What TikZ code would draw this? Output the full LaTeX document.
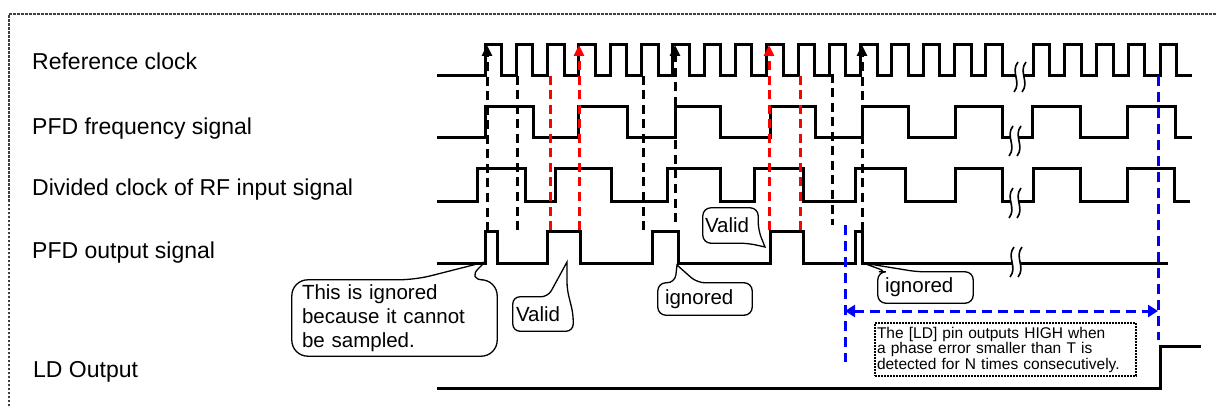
\documentclass[tikz,border=0pt]{standalone}
\usepackage{fontspec}
\setmainfont{Liberation Sans}
\usetikzlibrary{arrows.meta}

\tikzset{
  wave/.style={line width=3pt, line join=miter},
  guide/.style={line width=3pt, dash pattern=on 9pt off 5.5pt},
  blueguide/.style={guide, blue, dash pattern=on 10pt off 6pt},
  tip/.style={-{Triangle[length=11pt,width=10pt]}},
  lbl/.style={anchor=base west, inner sep=0pt, font=\fontsize{23}{27}\selectfont},
  calltext/.style={inner ysep=0pt, align=left, font=\fontsize{20.5}{24}\selectfont},
  callline/.style={line width=1.3pt, rounded corners=8pt},
  frame/.style={line width=1.3pt, black!75, dash pattern=on 2.5pt off 1.5pt},
  brk/.pic={
    \fill[white] (1,-15) .. controls (-7,-5) and (5,5) .. (-3,15) -- (5,15)
      .. controls (13,5) and (1,-5) .. (9,-15) -- cycle;
    \draw[line width=1.6pt] (1,-15) .. controls (-7,-5) and (5,5) .. (-3,15);
    \draw[line width=1.6pt] (9,-15) .. controls (1,-5) and (13,5) .. (5,15);
  }
}

\begin{document}
\begin{tikzpicture}[x=1pt,y=-1pt]
\useasboundingbox (0,0) rectangle (1217,406);

\def\Tref{31.3} % reference clock period
\def\Tend{31.75} % period after the break

% frame
\draw[frame] (9,406) -- (9,14) -- (1217,14);

% row labels
\node[lbl] (lblRef)  at (32,70)  {Reference clock};
\node[lbl] (lblFreq) at (32,135) {PFD frequency signal};
\node[lbl] (lblDiv)  at (32,196) {Divided clock of RF input signal};
\node[lbl] (lblOut)  at (32,258) {PFD output signal};
\node[lbl] (lblLD)   at (33,377) {LD Output};

% waveforms
\draw[wave] (437,76) \foreach \k in {0,...,16} {
    -- ({485+\Tref*\k},76) -- ++(0,-31) -- ++(16.5,0) -- ++(0,31) }
  \foreach \k in {0,...,4} {
    -- ({1033+\Tend*\k},76) -- ++(0,-31) -- ++(16.5,0) -- ++(0,31) }
  -- (1192,76);
\draw[wave] (437,138) -- (485,138) |- (533,107) |- (578,138) |- (627,107)
  |- (675,138) |- (720,107) |- (770,138) |- (815,107) |- (862,138)
  |- (908,107) |- (955,138) |- (1002,107) |- (1032,138) |- (1080,107)
  |- (1127,138) |- (1175,107) |- (1192,138);
\draw[wave] (437,201) -- (477,201) |- (525,169) |- (555,201) |- (611,169)
  |- (667,201) |- (720,169) |- (754,201) |- (803,169) |- (855,201)
  |- (905,169) |- (955,201) |- (1002,169) |- (1033,201) |- (1080,169)
  |- (1127,201) |- (1174,169) |- (1190,201);
\draw[wave] (437,263) -- (485,263) |- (497,231) |- (547,263) |- (580,231)
  |- (652,263) |- (678,231) |- (770,263) |- (803,231) |- (855,263)
  |- (862,231) |- (1168,263);
\draw[wave] (437,388) -- (1160,388) |- (1201,346);

% breaks
\pic at (1017,77) {brk};
\pic at (1012,141) {brk};
\pic at (1012,203) {brk};
\pic at (1013,262) {brk};

% sampling edges
\foreach \x/\yt/\yb in {517/76/232, 643/76/231, 832/74/225}
  \draw[guide] (\x,\yt) -- (\x,\yb);
\foreach \x/\yb in {487/231, 675/222, 862/231}
  \draw[guide, tip] (\x,\yb) -- (\x,45);
\foreach \x in {550, 800}
  \draw[guide, red] (\x,76) -- (\x,230);
\foreach \x in {579, 769}
  \draw[guide, red, tip] (\x,230) -- (\x,45);

% lock detection window
\coordinate (lockStart) at (845,311);
\coordinate (lockEnd) at (1158,311);
\draw[blueguide] (845,225) -- (845,362);
\draw[blueguide] (1158,76) -- (1158,340);
\draw[blueguide, {Triangle[length=10pt,width=12pt]}-{Triangle[length=10pt,width=12pt]}]
  (lockStart) -- (lockEnd);

% callouts
\node[calltext, inner xsep=10pt, text width=185pt, minimum width=205pt, minimum height=76pt]
  (ignA) at (394.5,318) {This is ignored\\because it cannot\\be sampled.};
\draw[callline, rounded corners=16pt] (ignA.west) -- (ignA.north west) -- (415,0 |- ignA.north)
  [sharp corners] -- (485,262) [rounded corners=16pt] -- (467,0 |- ignA.north)
  -- (ignA.north east) -- (ignA.south east) -- (ignA.south west) -- cycle;

\node[calltext, inner xsep=3pt, text width=54pt, minimum width=60pt, minimum height=34pt]
  (valA) at (543,314) {Valid};
\draw[callline, rounded corners=7pt] (valA.west) -- (valA.north west) -- (548,0 |- valA.north)
  [sharp corners] -- (567,262) [rounded corners=7pt] -- (567,289)
  -- (valA.east) -- (valA.south east) -- (valA.south west) -- cycle;

\node[calltext, inner xsep=7pt, text width=80pt, minimum width=94pt, minimum height=32pt]
  (ignB) at (705,299) {ignored};
\draw[callline, rounded corners=8pt] (ignB.west) -- (ignB.north west) -- (675,0 |- ignB.north)
  [sharp corners] -- (677,265) [rounded corners=8pt] -- (697,0 |- ignB.north)
  -- (ignB.north east) -- (ignB.south east) -- (ignB.south west) -- cycle;

\node[calltext, inner xsep=2pt, text width=51pt, minimum width=55pt, minimum height=35pt]
  (valB) at (730.5,225.5) {Valid};
\draw[callline, rounded corners=8pt] (valB.west) -- (valB.north west) -- (valB.north east)
  -- (valB.east |- 0,230) [sharp corners] -- (765,247) [rounded corners=8pt]
  -- (748,0 |- valB.south) -- (valB.south west) -- cycle;

\node[calltext, inner xsep=7pt, text width=81pt, minimum width=95pt, minimum height=31pt]
  (ignC) at (925.5,287.5) {ignored};
\draw[callline, rounded corners=8pt] (ignC.west) -- (ignC.north west) -- (887,0 |- ignC.north)
  [sharp corners] -- (863,263) [rounded corners=8pt] -- (917,0 |- ignC.north)
  -- (ignC.north east) -- (ignC.south east) -- (ignC.south west) -- cycle;

% note
\node[draw, line width=1.6pt, dash pattern=on 1.6pt off 1.4pt, align=left,
  inner xsep=2pt, inner ysep=0pt, text width=257pt, minimum width=261pt, minimum height=53pt,
  font=\fontsize{15.5}{15.5}\selectfont]
  (ldNote) at (1005.5,349.5)
  {The [LD] pin outputs HIGH when\\a phase error smaller than T is\\detected for N times consecutively.};
\end{tikzpicture}
\end{document}
